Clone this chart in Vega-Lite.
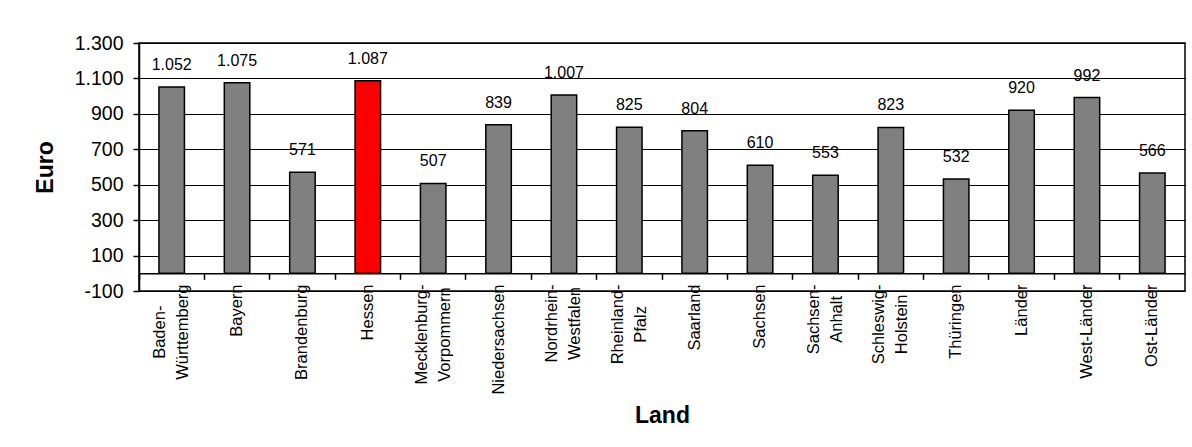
{
  "$schema": "https://vega.github.io/schema/vega-lite/v6.json",
  "width": 1046,
  "height": 248,
  "autosize": "none",
  "padding": {"left": 139, "top": 43, "right": 7, "bottom": 156},
  "background": "white",
  "config": {
    "font": "Liberation Sans",
    "view": {"stroke": "black", "strokeWidth": 1.5},
    "locale": {
      "number": {"decimal": ",", "thousands": ".", "grouping": [3], "currency": ["", " €"], "minus": "-"}
    }
  },
  "data": {
    "values": [
      {"Land": "Baden-\nWürttemberg", "Euro": 1052},
      {"Land": "Bayern", "Euro": 1075},
      {"Land": "Brandenburg", "Euro": 571},
      {"Land": "Hessen", "Euro": 1087},
      {"Land": "Mecklenburg-\nVorpommern", "Euro": 507},
      {"Land": "Niedersachsen", "Euro": 839},
      {"Land": "Nordrhein-\nWestfalen", "Euro": 1007},
      {"Land": "Rheinland-\nPfalz", "Euro": 825},
      {"Land": "Saarland", "Euro": 804},
      {"Land": "Sachsen", "Euro": 610},
      {"Land": "Sachsen-\nAnhalt", "Euro": 553},
      {"Land": "Schleswig-\nHolstein", "Euro": 823},
      {"Land": "Thüringen", "Euro": 532},
      {"Land": "Länder", "Euro": 920},
      {"Land": "West-Länder", "Euro": 992},
      {"Land": "Ost-Länder", "Euro": 566}
    ]
  },
  "resolve": {"axis": {"x": "independent"}},
  "layer": [
    {
      "mark": {"type": "bar", "stroke": "black", "strokeWidth": 1.5},
      "encoding": {
        "x": {
          "field": "Land", "type": "nominal", "sort": null,
          "scale": {"paddingInner": 0.61, "paddingOuter": 0.305},
          "axis": {
            "orient": "bottom",
            "title": "Land",
            "titleFontSize": 23, "titleFontWeight": "bold", "titleColor": "black",
            "titleX": 523, "titleY": 124.5, "titleBaseline": "middle", "titleAlign": "center",
            "domain": false, "ticks": false, "grid": false,
            "labelAngle": -90, "labelBaseline": "middle",
            "labelAlign": {"condition": {"test": "indexof(datum.value, '\\n') >= 0", "value": "center"}, "value": "right"},
            "labelFontSize": 16.5, "labelLineHeight": 23,
            "labelPadding": {
              "condition": [
                {"test": "indexof(datum.value, 'Baden') === 0", "value": 40.7},
                {"test": "indexof(datum.value, 'Mecklenburg') === 0", "value": 43},
                {"test": "indexof(datum.value, 'Nordrhein') === 0", "value": 32},
                {"test": "indexof(datum.value, 'Rheinland') === 0", "value": 32.9},
                {"test": "indexof(datum.value, 'Sachsen-') === 0", "value": 27.9},
                {"test": "indexof(datum.value, 'Schleswig') === 0", "value": 32.9}
              ],
              "value": -7
            },
            "labelColor": "black", "labelOverlap": false, "labelLimit": 0,
            "labelOffset": {"condition": {"test": "indexof(datum.value, '\\n') >= 0", "value": -11.5}, "value": 0},
            "labelExpr": "split(datum.label, '\\n')"
          }
        },
        "y": {
          "field": "Euro", "type": "quantitative",
          "scale": {"domain": [-100, 1300], "nice": false, "zero": false},
          "axis": {
            "values": [-100, 100, 300, 500, 700, 900, 1100, 1300],
            "tickCount": 20,
            "labelExpr": "format(datum.value, ',')",
            "labelOverlap": false,
            "title": "Euro",
            "titleFontSize": 23, "titleFontWeight": "bold", "titleColor": "black",
            "titleX": -94, "titleY": 124, "titleBaseline": "middle", "titleAlign": "center", "titleAngle": -90,
            "grid": true, "gridColor": "black", "gridWidth": 1, "gridOpacity": 1,
            "domainColor": "black", "domainWidth": 1.5,
            "tickColor": "black", "tickSize": 6, "tickWidth": 1.5,
            "labelFontSize": 19.5, "labelColor": "black", "labelPadding": 10
          }
        },
        "y2": {"datum": 0},
        "color": {
          "condition": {"test": "datum.Land === 'Hessen'", "value": "#FF0000"},
          "value": "#808080"
        }
      }
    },
    {
      "mark": {"type": "text", "baseline": "alphabetic", "align": "center", "dy": -17, "fontSize": 16, "color": "black"},
      "encoding": {
        "x": {
          "field": "Land", "type": "nominal", "sort": null,
          "axis": {
            "orient": "bottom", "offset": -17.7, "title": null,
            "labels": false, "grid": false,
            "domain": true, "domainColor": "black", "domainWidth": 1.5,
            "ticks": true, "tickColor": "black", "tickSize": 6, "tickWidth": 1.5,
            "bandPosition": -0.78, "zindex": 1
          }
        },
        "y": {"field": "Euro", "type": "quantitative"},
        "text": {"field": "Euro", "type": "quantitative", "format": ","}
      }
    }
  ]
}
